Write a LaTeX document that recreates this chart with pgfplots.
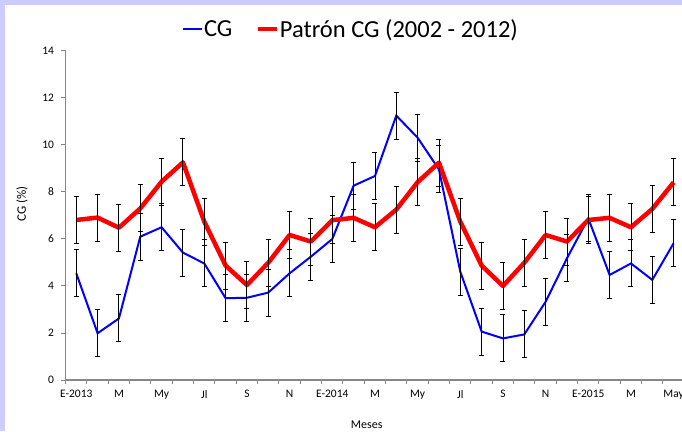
\documentclass[border=0pt]{standalone}
\usepackage{fontspec}
\setmainfont{Carlito}
\usepackage{pgfplots}
\pgfplotsset{compat=1.18}
\definecolor{lav}{RGB}{204,204,255}
\definecolor{axgray}{RGB}{134,134,134}
\begin{document}
\begin{tikzpicture}
\path[use as bounding box] (0pt,0pt) rectangle (682pt,431pt);
\clip (0pt,0pt) rectangle (682pt,431pt);
\fill[lav] (0pt,0pt) rectangle (682pt,431pt);
\fill[white] (5pt,0pt) rectangle (682pt,426pt);
\begin{axis}[
  at={(65.6pt,51pt)}, anchor=south west,
  scale only axis, width=618.7pt, height=329pt,
  xmin=-0.5, xmax=28.5, ymin=0, ymax=14,
  axis lines*=left,
  axis line style={axgray, line width=1.1pt},
  tick align=outside,
  major tick length=5pt, minor tick length=4pt,
  tick style={axgray, line width=1pt},
  xtick={0,2,...,28},
  xticklabels={E-2013,M,My,Jl,S,N,E-2014,M,My,Jl,S,N,E-2015,M,May},
  major x tick style={draw=none},
  minor xtick={-0.5,0.5,...,28.5},
  ytick={0,2,...,14},
  /pgf/number format/assume math mode=true,
  ticklabel style={font=\fontsize{11.5}{13}\selectfont},
  yticklabel style={xshift=-3pt},
  xticklabel style={yshift=-2pt},
  xlabel={Meses},
  xlabel style={at={(axis description cs:0.4867,-0.1368)}, anchor=center, font=\fontsize{12}{14}\selectfont},
  ylabel={CG (\%)},
  ylabel style={at={(axis description cs:-0.0706,0.535)}, anchor=center, font=\fontsize{13}{15}\selectfont},
  legend style={at={(axis description cs:0.4605,1.0669)}, anchor=center, draw=none, fill=none,
    font=\fontsize{24.5}{28}\selectfont, nodes={inner xsep=1pt},
    /tikz/every even column/.append style={column sep=22pt}},
  legend columns=2,
  legend image code/.code={\draw[#1] (0pt,0pt) -- (19pt,0pt);},
]
\addplot[blue, line width=2pt, mark=none] coordinates {
(0,4.54) (1,1.99) (2,2.62) (3,6.10) (4,6.50) (5,5.42) (6,4.96) (7,3.48) (8,3.50) (9,3.72)
(10,4.54) (11,5.25) (12,6.00) (13,8.27) (14,8.68) (15,11.25) (16,10.31) (17,8.96) (18,4.61) (19,2.06)
(20,1.77) (21,1.94) (22,3.33) (23,5.18) (24,6.88) (25,4.47) (26,4.96) (27,4.26) (28,5.82)};
\addlegendentry{CG}
\addplot[red, line width=4.5pt, mark=none, line join=round] coordinates {
(0,6.81) (1,6.91) (2,6.48) (3,7.30) (4,8.44) (5,9.26) (6,6.74) (7,4.87) (8,4.04) (9,4.99)
(10,6.17) (11,5.89) (12,6.80) (13,6.90) (14,6.50) (15,7.25) (16,8.42) (17,9.25) (18,6.74) (19,4.87)
(20,4.00) (21,4.99) (22,6.17) (23,5.89) (24,6.81) (25,6.90) (26,6.50) (27,7.28) (28,8.41)};
\addlegendentry{Patrón CG (2002 - 2012)}
\addplot[draw=none, mark=none, forget plot,
  error bars/.cd, y dir=both, y fixed=1, error mark=|,
  error bar style={black, line width=0.9pt},
  error mark options={black, line width=0.9pt, mark size=2.5pt}] coordinates {
(0,4.54) (1,1.99) (2,2.62) (3,6.10) (4,6.50) (5,5.42) (6,4.96) (7,3.48) (8,3.50) (9,3.72)
(10,4.54) (11,5.25) (12,6.00) (13,8.27) (14,8.68) (15,11.25) (16,10.31) (17,8.96) (18,4.61) (19,2.06)
(20,1.77) (21,1.94) (22,3.33) (23,5.18) (24,6.88) (25,4.47) (26,4.96) (27,4.26) (28,5.82)};
\addplot[draw=none, mark=none, forget plot,
  error bars/.cd, y dir=both, y fixed=1, error mark=|,
  error bar style={black, line width=0.9pt},
  error mark options={black, line width=0.9pt, mark size=2.5pt}] coordinates {
(0,6.81) (1,6.91) (2,6.48) (3,7.30) (4,8.44) (5,9.26) (6,6.74) (7,4.87) (8,4.04) (9,4.99)
(10,6.17) (11,5.89) (12,6.80) (13,6.90) (14,6.50) (15,7.25) (16,8.42) (17,9.25) (18,6.74) (19,4.87)
(20,4.00) (21,4.99) (22,6.17) (23,5.89) (24,6.81) (25,6.90) (26,6.50) (27,7.28) (28,8.41)};
\end{axis}
\end{tikzpicture}
\end{document}
